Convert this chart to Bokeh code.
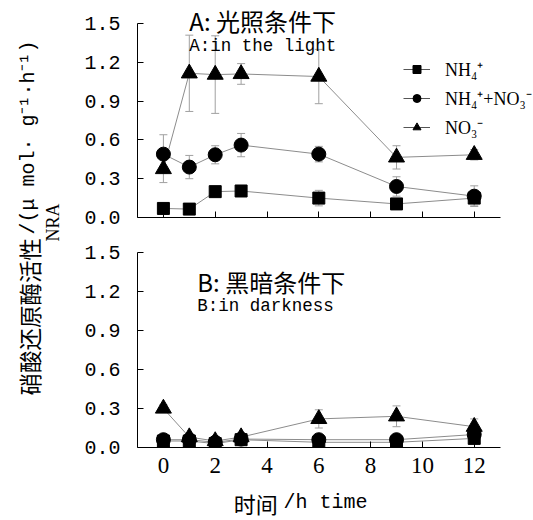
import numpy as np
from math import pi
from bokeh.plotting import figure
from bokeh.models import (ColumnDataSource, Whisker, TeeHead, Label, Legend, LegendItem,
                          FixedTicker, Range1d)
from bokeh.layouts import row, column
from bokeh.embed import file_html
from bokeh.resources import INLINE

# ---------------- data ----------------
hours = [0, 1, 2, 3, 6, 9, 12]
x_ticks = [0, 2, 4, 6, 8, 10, 12]
y_ticks = [0.0, 0.3, 0.6, 0.9, 1.2, 1.5]

# A: in the light
nh4_light = [0.07, 0.065, 0.20, 0.205, 0.15, 0.105, 0.15]
nh4_light_err = [0.01, 0.01, 0.02, 0.02, 0.06, 0.02, 0.06]
mix_light = [0.49, 0.39, 0.485, 0.56, 0.49, 0.24, 0.165]
mix_light_err = [0.15, 0.09, 0.07, 0.09, 0.06, 0.075, 0.08]
no3_light = [0.375, 1.115, 1.105, 1.11, 1.09, 0.465, 0.485]
no3_light_err = [0.105, 0.295, 0.30, 0.08, 0.21, 0.09, 0.04]

# B: in darkness
nh4_dark = [0.05, 0.05, 0.03, 0.06, 0.04, 0.04, 0.07]
nh4_dark_err = [0.01, 0.01, 0.01, 0.01, 0.01, 0.01, 0.01]
mix_dark = [0.06, 0.06, 0.04, 0.065, 0.06, 0.06, 0.10]
mix_dark_err = [0.01, 0.01, 0.01, 0.01, 0.03, 0.03, 0.02]
no3_dark = [0.30, 0.08, 0.05, 0.08, 0.22, 0.24, 0.16]
no3_dark_err = [0.03, 0.02, 0.01, 0.02, 0.07, 0.08, 0.06]

series_names = ["NH₄⁺", "NH₄⁺+NO₃⁻", "NO₃⁻"]
markers = ["square", "circle", "triangle"]
marker_sizes = [12, 14, 16]
legend_sizes = [7, 7, 9]

LINE_C = "#8c8c8c"
ERR_C = "#a0a0a0"
MONO = "Liberation Mono"
SERIF = "Liberation Serif"
CJK = "Noto Sans CJK SC"

MAIN_W = 459
X_END = 14.25


def make_panel(height, top, bottom, y_end, data, show_labels):
    p = figure(width=MAIN_W, height=height, x_range=Range1d(-1, X_END), y_range=Range1d(0, y_end),
               output_backend="svg", toolbar_location=None,
               min_border_left=64, min_border_right=0,
               min_border_top=top, min_border_bottom=bottom)
    p.outline_line_color = None
    p.xgrid.grid_line_color = None
    p.ygrid.grid_line_color = None
    p.background_fill_color = None
    p.border_fill_color = None

    for ax in (p.xaxis[0], p.yaxis[0]):
        ax.axis_line_color = "black"
        ax.axis_line_width = 1
        ax.major_tick_in = 6
        ax.major_tick_out = 0
        ax.minor_tick_in = 0
        ax.minor_tick_out = 0
        ax.major_tick_line_color = "black"

    p.yaxis.bounds = (0, 1.5)
    p.xaxis.bounds = (-1, 13)

    p.yaxis.ticker = FixedTicker(ticks=y_ticks)
    p.yaxis.major_label_overrides = {t: f"{t:.1f}" for t in y_ticks}
    p.yaxis.major_label_text_font = MONO
    p.yaxis.major_label_text_font_size = "20px"
    p.yaxis.major_label_text_color = "black"
    p.yaxis.major_label_standoff = 17

    p.xaxis.ticker = FixedTicker(ticks=x_ticks)
    p.xaxis.major_label_text_font = SERIF
    p.xaxis.major_label_text_font_size = "23px"
    p.xaxis.major_label_text_color = "black"
    p.xaxis.major_label_standoff = 10
    if not show_labels:
        p.xaxis.major_label_overrides = {t: "" for t in x_ticks}

    for (vals, errs), mk, ms in zip(data, markers, marker_sizes):
        v = np.array(vals)
        e = np.array(errs)
        src = ColumnDataSource(dict(x=hours, y=vals, upper=v + e, lower=v - e))
        p.line("x", "y", source=src, line_color=LINE_C, line_width=1)
        p.add_layout(Whisker(source=src, base="x", upper="upper", lower="lower",
                             line_color=ERR_C, line_width=1,
                             upper_head=TeeHead(size=8, line_color=ERR_C, line_width=1),
                             lower_head=TeeHead(size=8, line_color=ERR_C, line_width=1)))
    for (vals, errs), mk, ms in zip(data, markers, marker_sizes):
        p.scatter(hours, vals, marker=mk, size=ms, fill_color="black", line_color="black")
    return p


top = make_panel(238, 0, 21, 1.678,
                 [(nh4_light, nh4_light_err), (mix_light, mix_light_err), (no3_light, no3_light_err)],
                 False)
bot = make_panel(245, 14, 36, 1.5,
                 [(nh4_dark, nh4_dark_err), (mix_dark, mix_dark_err), (no3_dark, no3_dark_err)],
                 True)

# legend (small markers, legend-only renderers with no visible data)
items = []
for name, mk, ls in zip(series_names, markers, legend_sizes):
    lr = top.line(x=[np.nan], y=[np.nan], line_color="#555555", line_width=1)
    sr = top.scatter(x=[np.nan], y=[np.nan], marker=mk, size=ls,
                     fill_color="black", line_color="black")
    items.append(LegendItem(label=name, renderers=[lr, sr]))
legend = Legend(items=items, location=(266, 78), glyph_width=27, glyph_height=20,
                label_height=20, spacing=5, padding=0, margin=0, label_standoff=15,
                border_line_color=None, background_fill_alpha=0,
                label_text_font=SERIF, label_text_font_size="18px", label_text_color="black")
top.add_layout(legend)

# panel annotations
top.add_layout(Label(x=1, y=1.524, text="A: 光照条件下", text_font=CJK, text_font_size="24px",
                     text_baseline="middle", text_align="left", text_color="black"))
top.add_layout(Label(x=1, y=1.33, text="A:in the light", text_font=MONO, text_font_size="17.5px",
                     text_baseline="middle", text_align="left", text_color="black"))
bot.add_layout(Label(x=1.31, y=1.28, text="B: 黑暗条件下", text_font=CJK, text_font_size="24px",
                     text_baseline="middle", text_align="left", text_color="black"))
bot.add_layout(Label(x=1.31, y=1.085, text="B:in darkness", text_font=MONO, text_font_size="17.5px",
                     text_baseline="middle", text_align="left", text_color="black"))


def blank(width, height, x_range, y_range, left=0):
    f = figure(width=width, height=height, x_range=x_range, y_range=y_range,
               output_backend="svg", toolbar_location=None,
               min_border_left=left, min_border_right=0, min_border_top=0, min_border_bottom=0)
    f.axis.visible = False
    f.grid.visible = False
    f.outline_line_color = None
    f.background_fill_color = None
    f.border_fill_color = None
    return f


# x axis title (same horizontal scale as the panels)
xlab = blank(MAIN_W, 36, Range1d(-1, X_END), Range1d(0, 36), left=64)
xlab.add_layout(Label(x=4.41, y=17, text="时间", text_font=CJK, text_font_size="22px",
                      text_baseline="middle", text_align="right", text_color="black"))
xlab.add_layout(Label(x=4.64, y=17, text="/h time", text_font=MONO, text_font_size="20px",
                      text_baseline="middle", text_align="left", text_color="black"))

# y axis title
lab = blank(73, 519, Range1d(0, 73), Range1d(0, 519))
lab.add_layout(Label(x=28, y=124, text="硝酸还原酶活性", angle=pi / 2, text_font=CJK,
                     text_font_size="22.5px", text_align="left", text_baseline="middle",
                     text_color="black"))
lab.add_layout(Label(x=28, y=285, text="/(μ mol· g⁻¹·h⁻¹)", angle=pi / 2, text_font=MONO,
                     text_font_size="20px", text_align="left", text_baseline="middle",
                     text_color="black"))
lab.add_layout(Label(x=52, y=297, text="NRA", angle=pi / 2, text_font=SERIF,
                     text_font_size="18px", text_align="center", text_baseline="middle",
                     text_color="black"))

layout = row(lab, column(top, bot, xlab))
open("out.html", "w").write(file_html(layout, INLINE))
